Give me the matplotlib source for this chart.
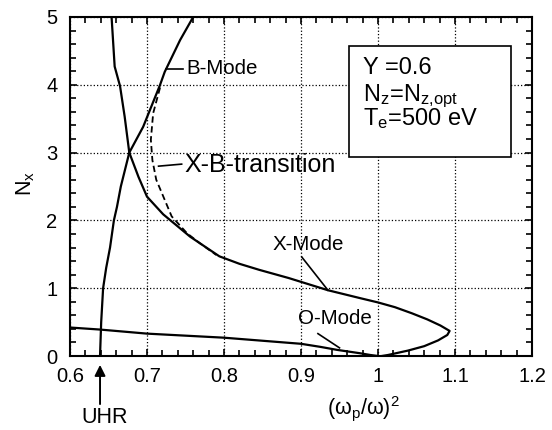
"""Dispersion curves N_x vs (omega_p/omega)^2 near the UHR: X, B, O modes."""
import matplotlib
matplotlib.use("Agg")
import matplotlib.pyplot as plt
from matplotlib.patches import Rectangle
from matplotlib.ticker import MultipleLocator

plt.rcParams["font.family"] = ["Liberation Sans", "DejaVu Sans"]
plt.rcParams["mathtext.fontset"] = "custom"
plt.rcParams["mathtext.rm"] = "Liberation Sans"
plt.rcParams["mathtext.it"] = "Liberation Sans:italic"
plt.rcParams["mathtext.default"] = "rm"

# ── data ──────────────────────────────────────────────────────────────────────
xmode_x = [0.654, 0.658, 0.665, 0.671, 0.677, 0.689, 0.700, 0.721, 0.756, 0.794,
           0.820, 0.846, 0.884, 0.935, 0.978, 1.000, 1.022, 1.044, 1.064, 1.081,
           1.093, 1.090, 1.078, 1.060, 1.039, 1.013, 1.005]
xmode_n = [5.0, 4.27, 3.98, 3.53, 3.0, 2.64, 2.35, 2.09, 1.76, 1.47,
           1.36, 1.27, 1.15, 0.97, 0.85, 0.79, 0.72, 0.63, 0.54, 0.45,
           0.37, 0.31, 0.23, 0.145, 0.08, 0.015, 0.0]

bmode_x = [0.639, 0.6405, 0.643, 0.647, 0.652, 0.657, 0.661, 0.666, 0.677,
           0.695, 0.717, 0.723, 0.743, 0.760]
bmode_n = [0.0, 0.5, 1.0, 1.3, 1.6, 2.0, 2.2, 2.5, 3.0,
           3.38, 4.0, 4.19, 4.66, 5.0]

trans_x = [0.717, 0.708, 0.705, 0.707, 0.712, 0.732, 0.752, 0.769, 0.790]
trans_n = [3.96, 3.58, 3.19, 2.89, 2.60, 2.06, 1.81, 1.66, 1.49]

omode_x = [0.600, 0.639, 0.700, 0.800, 0.900, 0.925, 0.947, 0.977, 0.990, 1.000]
omode_n = [0.42, 0.39, 0.33, 0.27, 0.18, 0.135, 0.09, 0.04, 0.015, 0.0]

uhr_x = 0.639
info_lines = ["Y =0.6", "N$_z$=N$_\\mathregular{z{,}opt}$", "T$_e$=500 eV"]

# ── figure ────────────────────────────────────────────────────────────────────
fig = plt.figure(figsize=(5.52, 4.30), dpi=100)
ax = fig.add_axes([70 / 552, 1 - 356 / 430, 462 / 552, 339 / 430])

lw = 1.6
ax.plot(xmode_x, xmode_n, color="black", lw=lw, zorder=3)
ax.plot(bmode_x, bmode_n, color="black", lw=lw, zorder=3)
ax.plot(trans_x, trans_n, color="black", lw=1.3, dashes=(3.5, 2), zorder=3)
ax.plot(omode_x, omode_n, color="black", lw=lw, zorder=3)

ax.set_xlim(0.6, 1.2)
ax.set_ylim(0, 5)
ax.xaxis.set_minor_locator(MultipleLocator(0.02))
ax.yaxis.set_major_locator(MultipleLocator(1))
ax.yaxis.set_minor_locator(MultipleLocator(0.2))
ax.set_xticks([0.6, 0.7, 0.8, 0.9, 1.0, 1.1, 1.2])
ax.set_xticklabels(["0.6", "0.7", "0.8", "0.9", "1", "1.1", "1.2"])
ax.tick_params(which="both", direction="in", top=True, right=True,
               width=1.2, labelsize=14.5)
ax.tick_params(which="major", length=5, pad=8)
ax.tick_params(which="minor", length=4.5)
ax.tick_params(axis="y", pad=9)
for s in ax.spines.values():
    s.set_linewidth(1.5)
ax.grid(True, which="major", color="black", linestyle=":", linewidth=0.9)
ax.set_axisbelow(True)

ax.set_xlabel(r"($\omega_{\rm p}$/$\omega$)$^2$", fontsize=15.5)
ax.xaxis.set_label_coords(0.635, -0.112)
ax.set_ylabel("N$_x$", fontsize=15.5)
ax.yaxis.set_label_coords(-0.072, 0.51)

# parameter box
ax.add_patch(Rectangle((0.9623, 2.935), 0.2104, 1.637, facecolor="white",
                       edgecolor="black", lw=1.2, zorder=4))
for txt, yb in zip(info_lines, [4.16, 3.76, 3.40]):
    ax.text(0.981, yb, txt, fontsize=17, va="baseline", ha="left", zorder=5)

# curve labels with pointer lines
lab = dict(color="black", lw=1.2, zorder=3)
ax.plot([0.725, 0.747], [4.24, 4.24], **lab)
ax.text(0.751, 4.24, "B-Mode", fontsize=14.8, va="center", ha="left")
ax.plot([0.715, 0.745], [2.80, 2.83], **lab)
ax.text(0.749, 2.82, "X-B-transition", fontsize=18, va="center", ha="left")
ax.plot([0.901, 0.935], [1.46, 0.97], **lab)
ax.text(0.863, 1.64, "X-Mode", fontsize=14.8, va="center", ha="left")
ax.plot([0.922, 0.950], [0.33, 0.12], **lab)
ax.text(0.896, 0.55, "O-Mode", fontsize=14.8, va="center", ha="left")

# UHR arrow below the axis
ax.annotate("", xy=(uhr_x, -0.09), xytext=(uhr_x, -0.75),
            arrowprops=dict(arrowstyle="-|>", color="black", lw=1.4,
                            mutation_scale=16),
            annotation_clip=False)
ax.text(uhr_x + 0.006, -0.91, "UHR", fontsize=15.5, ha="center", va="center",
        clip_on=False)

fig.savefig("out.png", dpi=100)
